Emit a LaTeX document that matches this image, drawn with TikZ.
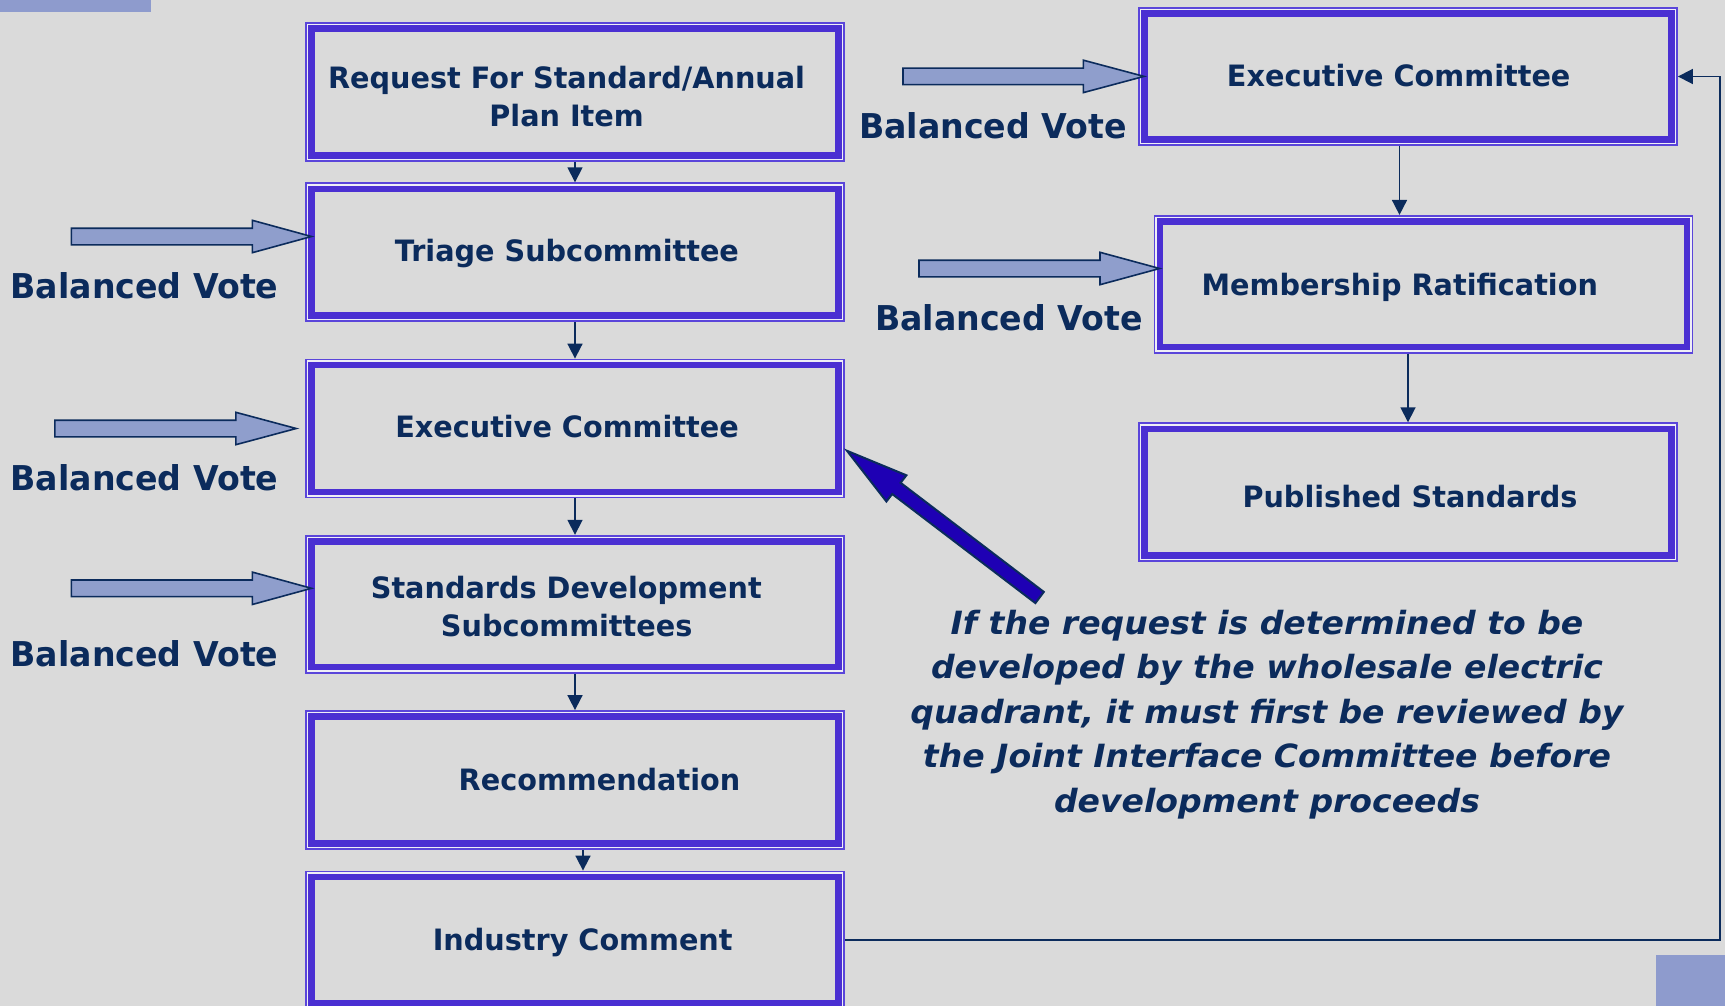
\documentclass[tikz,border=0pt]{standalone}
\usepackage{fontspec}
\setmainfont{DejaVu Sans}
\newfontfamily\boxfont{DejaVu Sans}[FakeStretch=0.976]
\newfontfamily\votefont{DejaVu Sans}[FakeStretch=0.971]
\newfontfamily\notefont{DejaVu Sans}[FakeStretch=1.033]
\usetikzlibrary{arrows.meta,calc}
\definecolor{bgc}{HTML}{DADADA}
\definecolor{navy}{HTML}{0B2B5C}
\definecolor{boxc}{HTML}{4A2FD2}
\definecolor{thinc}{HTML}{5A45DA}
\definecolor{gapc}{HTML}{EEEEF6}
\definecolor{varrowc}{HTML}{8F9ECC}
\definecolor{bigarrowc}{HTML}{1E00B4}
\definecolor{cornerc}{HTML}{8E9BCD}
\newcommand{\vblock}[4]{%
  \draw[vbarrow] (#1,#4-8.3) -- (#2,#4-8.3) -- (#2,#4-16.2) -- (#3,#4)
    -- (#2,#4+16.2) -- (#2,#4+8.3) -- (#1,#4+8.3) -- cycle;}
\tikzset{
  stepbox/.style={draw=none, inner sep=0pt, minimum width=539*0.5pt},
  boxh/.style={minimum height=#1*0.5pt},
  btext/.style={font=\boxfont\bfseries\fontsize{14.7}{17}\selectfont, text=navy, inner sep=0pt, anchor=base},
  vtext/.style={font=\votefont\bfseries\fontsize{17.1}{20}\selectfont, text=navy, inner sep=0pt, anchor=base},
  ntext/.style={font=\notefont\bfseries\itshape\fontsize{16}{20}\selectfont, text=navy, inner sep=0pt, anchor=base},
  conn/.style={draw=navy, line width=0.85pt, -{Triangle[length=7.5pt,width=7.5pt]}},
  vbarrow/.style={draw=navy, line width=0.8pt, fill=varrowc, line join=miter},
  bigarrow/.style={draw=navy, line width=1pt, fill=bigarrowc, line join=miter},
}
\begin{document}
\begin{tikzpicture}[x=0.5pt, y=-0.5pt]
\useasboundingbox (0,0) rectangle (1725,1006);
\fill[bgc] (0,0) rectangle (1725,1006);
\fill[cornerc] (0,0) rectangle (151,12);
\fill[cornerc] (1656,955) rectangle (1725,1006);

% boxes
\node[stepbox, boxh=139] (req) at (575,92) {};
\node[stepbox, boxh=139] (tri) at (575,252.2) {};
\node[stepbox, boxh=139] (exl) at (575,428.5) {};
\node[stepbox, boxh=138] (sds) at (575,604.2) {};
\node[stepbox, boxh=139] (rec) at (575,780) {};
\node[stepbox, boxh=138] (ind) at (575,940) {};
\node[stepbox, boxh=138] (exr) at (1408,76.5) {};
\node[stepbox, boxh=138] (mem) at (1423.5,284.3) {};
\node[stepbox, boxh=139] (pub) at (1408,492.2) {};
\foreach \n in {req,tri,exl,sds,rec,ind,exr,mem,pub}{
  \draw[thinc, line width=0.8pt] ([shift={(0.9,0.9)}]\n.north west) rectangle ([shift={(-0.9,-0.9)}]\n.south east);
  \draw[gapc, line width=0.8pt] ([shift={(2.5,2.5)}]\n.north west) rectangle ([shift={(-2.5,-2.5)}]\n.south east);
  \draw[boxc, line width=3.25pt] ([shift={(6.55,6.55)}]\n.north west) rectangle ([shift={(-6.55,-6.55)}]\n.south east);
}

% box texts
\node[btext] (t1a) at (566.6,88.3) {Request For Standard/Annual};
\node[btext] (t1b) at (566.6,126.7) {Plan Item};
\node[btext] (t2) at (566.9,261.7) {Triage Subcommittee};
\node[btext] (t3) at (567,437.3) {Executive Committee};
\node[btext] (t4a) at (566.3,598.3) {Standards Development};
\node[btext] (t4b) at (566.7,636) {Subcommittees};
\node[btext] (t5) at (599.5,790) {Recommendation};
\node[btext] (t6) at (582.7,950) {Industry Comment};
\node[btext] (t7) at (1398.7,86.5) {Executive Committee};
\node[btext] (t8) at (1399.8,295.2) {Membership Ratification};
\node[btext] (t9) at (1410,507.1) {Published Standards};

% connectors
\draw[conn] (req.south) -- (tri.north);
\draw[conn] (tri.south) -- (exl.north);
\draw[conn] (exl.south) -- (sds.north);
\draw[conn] (sds.south) -- (rec.north);
\draw[conn] ([xshift=4pt]rec.south) -- ([xshift=4pt]ind.north);
\draw[conn] ([xshift=-4.25pt]exr.south) -- ([xshift=-4.25pt]exr.south |- mem.north);
\draw[conn] (mem.south -| pub.north) -- (pub.north);
\coordinate (rt) at (1720,0);
\draw[conn] (ind.east) -- (ind.east -| rt) -- (exr.east -| rt) -- (exr.east);

% balanced vote arrows
\vblock{71.3}{252.3}{311.5}{236.5}
\vblock{54.8}{235.8}{296.2}{428.5}
\vblock{71.3}{252.3}{311.5}{588.3}
\vblock{903}{1083.4}{1144}{76.4}
\vblock{919}{1100}{1159.6}{268.5}

\node[vtext] (v1) at (144.5,298) {Balanced Vote};
\node[vtext] (v2) at (144.5,490) {Balanced Vote};
\node[vtext] (v3) at (144.5,666.7) {Balanced Vote};
\node[vtext] (v4) at (993,138.9) {Balanced Vote};
\node[vtext] (v5) at (1009,330.8) {Balanced Vote};

% big arrow
\draw[bigarrow] (847,450.8) -- (906.4,475.3) -- (900.6,482.8) -- (1043.8,591.9)
  -- (1035.4,603.1) -- (892.2,494) -- (886.4,501.5) -- cycle;

% note
\node[ntext] (n1) at (1267,634) {If the request is determined to be};
\node[ntext] (n2) at (1267,678.5) {developed by the wholesale electric};
\node[ntext] (n3) at (1267,723) {quadrant, it must first be reviewed by};
\node[ntext] (n4) at (1267,767.5) {the Joint Interface Committee before};
\node[ntext] (n5) at (1267,812) {development proceeds};
\end{tikzpicture}
\end{document}
